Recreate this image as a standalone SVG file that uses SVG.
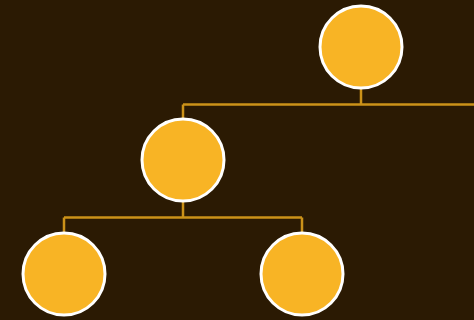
<svg xmlns="http://www.w3.org/2000/svg" width="474" height="320" viewBox="0 0 474 320">
<style>
.node{fill:#f8b425;stroke:#ffffff;stroke-width:3}
.link{fill:none;stroke:#cc9219;stroke-width:2.5}
</style>
<rect width="474" height="320" fill="#2b1a03"/>
<g id="connectors">
<path class="link" d="M361,88 V104.5 M183,104.5 H476 M183,104.5 V119"/>
<path class="link" d="M183,201 V217.5 M64,217.5 H302 M64,217.5 V233 M302,217.5 V233"/>
</g>
<g id="node-root"><circle class="node" cx="361" cy="47" r="41"/></g>
<g id="node-mid"><circle class="node" cx="183" cy="160" r="41"/></g>
<g id="node-left"><circle class="node" cx="64" cy="274" r="41"/></g>
<g id="node-right"><circle class="node" cx="302" cy="274" r="41"/></g>
</svg>
